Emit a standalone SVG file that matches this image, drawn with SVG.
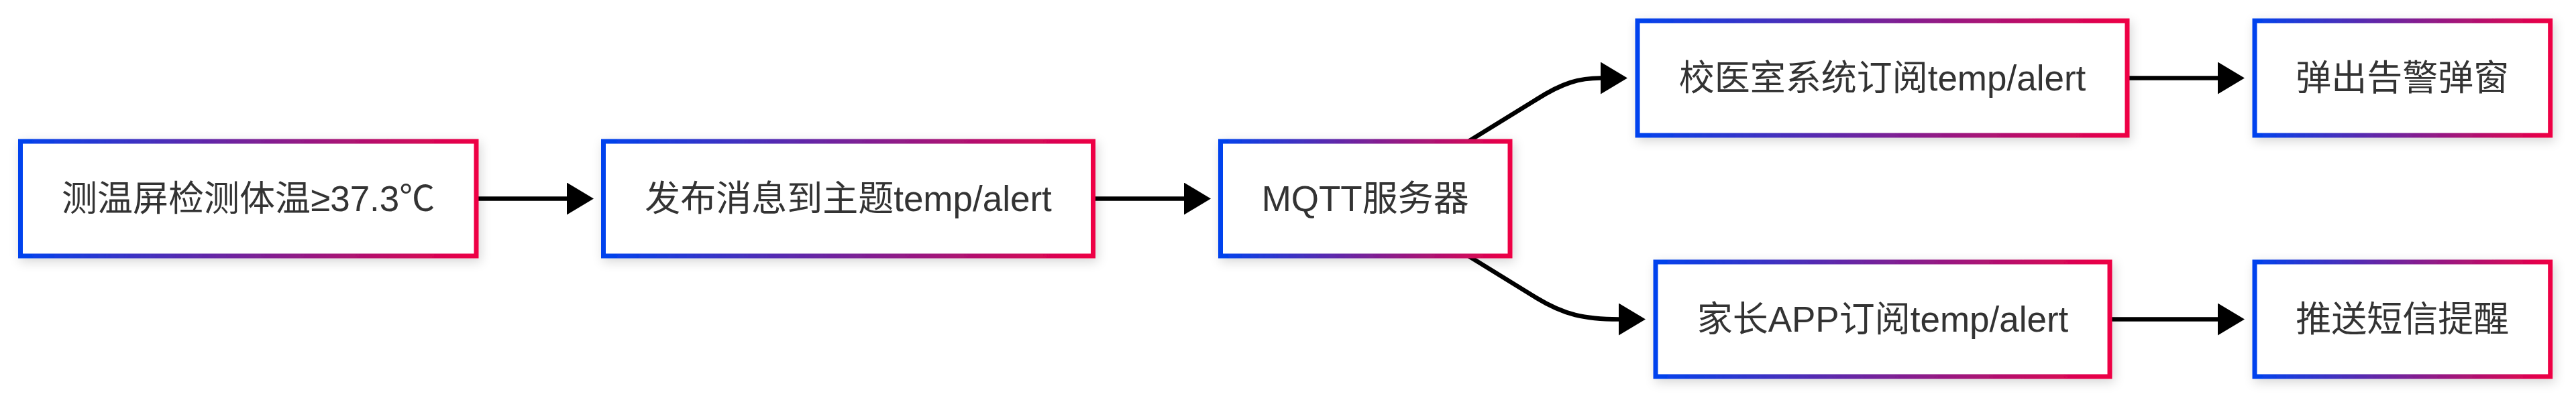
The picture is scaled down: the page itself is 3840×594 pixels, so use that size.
<svg xmlns="http://www.w3.org/2000/svg" width="3840" height="594" viewBox="0 0 3840 594">
<style>
.node rect{fill:#ffffff;stroke:url(#grad);stroke-width:7;filter:url(#shadow)}
.node text{font-family:"Liberation Sans","Noto Sans CJK SC",sans-serif;font-size:53px;fill:#333333;text-anchor:middle}
.edges path{fill:none;stroke:#000000;stroke-width:6.7;marker-end:url(#arrow)}
</style>
<defs>
<linearGradient id="grad" x1="0" y1="0" x2="1" y2="0">
<stop offset="0" stop-color="#0043ee"/>
<stop offset="1" stop-color="#ee0044"/>
</linearGradient>
<filter id="shadow" x="-20%" y="-30%" width="140%" height="160%">
<feDropShadow dx="3" dy="5" stdDeviation="8" flood-color="#000000" flood-opacity="0.16"/>
</filter>
<marker id="arrow" markerUnits="userSpaceOnUse" markerWidth="40" markerHeight="48" viewBox="0 0 40 48" refX="0" refY="24" orient="auto">
<path d="M0,0 L40,24 L0,48 z" fill="#000000"/>
</marker>
</defs>
<g class="edges" id="connectors">
<path d="M710,296.5 L845,296.5"/>
<path d="M1629.5,296.5 L1765,296.5"/>
<path d="M2176,219 L2290,148.6 C2330,123 2355,116.5 2386,116.5"/>
<path d="M2176,374 L2290,444.4 C2332,470 2362,476.5 2413,476.5"/>
<path d="M3171,116.5 L3306,116.5"/>
<path d="M3145,476.5 L3306,476.5"/>
</g>
<g class="node" id="n1"><rect x="30.5" y="211" width="679.5" height="171"/><text x="370.2" y="314.5">测温屏检测体温≥37.3℃</text></g>
<g class="node" id="n2"><rect x="899.5" y="211" width="730" height="171"/><text x="1264.5" y="314.5">发布消息到主题temp/alert</text></g>
<g class="node" id="n3"><rect x="1819.5" y="211" width="431.5" height="171"/><text x="2035.2" y="314.5">MQTT服务器</text></g>
<g class="node" id="n4"><rect x="2441" y="31" width="730" height="171"/><text x="2806" y="134.5">校医室系统订阅temp/alert</text></g>
<g class="node" id="n5"><rect x="3361" y="31" width="440.7" height="171"/><text x="3581.3" y="134.5">弹出告警弹窗</text></g>
<g class="node" id="n6"><rect x="2468" y="391" width="677" height="171"/><text x="2806.5" y="494.5">家长APP订阅temp/alert</text></g>
<g class="node" id="n7"><rect x="3361" y="391" width="440.7" height="171"/><text x="3581.3" y="494.5">推送短信提醒</text></g>
</svg>
